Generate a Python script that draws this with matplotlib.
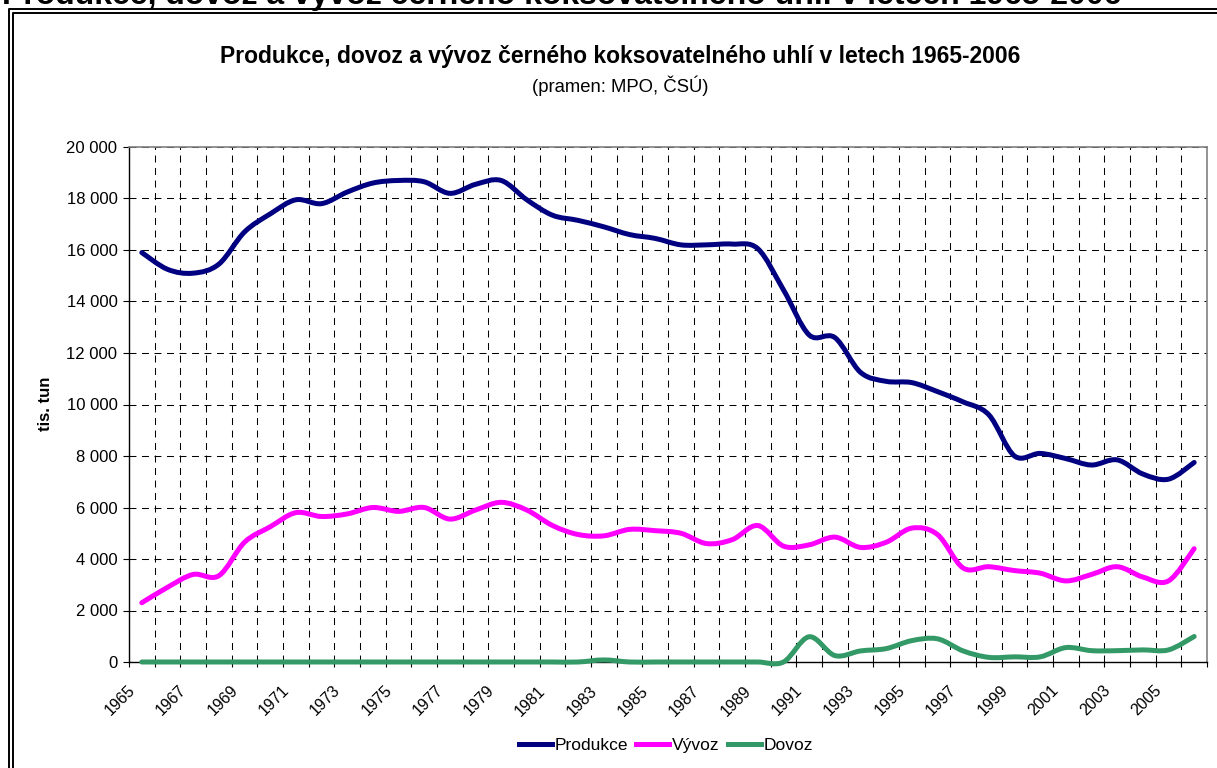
import matplotlib
matplotlib.use("Agg")
import matplotlib.pyplot as plt
from matplotlib.path import Path
from matplotlib.patches import PathPatch
from matplotlib.lines import Line2D
from matplotlib.transforms import ScaledTranslation

plt.rcParams["font.family"] = ["Liberation Sans", "DejaVu Sans"]
plt.rcParams["lines.scale_dashes"] = False

# Data (tis. tun)
years = list(range(1965, 2007))

produkce = [15900, 15250, 15100, 15450, 16700, 17400, 17950, 17800, 18250, 18600,
            18700, 18650, 18200, 18550, 18700, 17950, 17350, 17150, 16900, 16600,
            16450, 16200, 16200, 16230, 16050, 14450, 12700, 12600, 11250, 10900,
            10850, 10500, 10100, 9600, 8000, 8100, 7900, 7650, 7850, 7300,
            7100, 7750]

vyvoz = [2300, 2900, 3400, 3350, 4650, 5250, 5800, 5650, 5750, 6000,
         5850, 6000, 5550, 5900, 6200, 5900, 5300, 4950, 4900, 5150,
         5100, 5000, 4600, 4750, 5300, 4500, 4550, 4850, 4450, 4650,
         5200, 4950, 3650, 3700, 3550, 3450, 3150, 3400, 3700, 3300,
         3150, 4400]

dovoz = [0] * 18 + [80] + [0] * 7 + [980, 250, 430, 520, 830, 900, 430, 180,
                                     200, 200, 560, 440, 440, 470, 470, 990]

series_names = ["Produkce", "Vývoz", "Dovoz"]
series_colors = ["#000080", "#FF00FF", "#339966"]

W, H = 1217, 768


def smooth_path(xs, ys):
    """Excel-like smoothed line: Catmull-Rom as cubic Bezier segments."""
    verts = [(xs[0], ys[0])]
    codes = [Path.MOVETO]
    n = len(xs)
    for i in range(n - 1):
        i0 = i - 1 if i > 0 else i
        i3 = i + 2 if i + 2 < n else i + 1
        c1 = (xs[i] + (xs[i + 1] - xs[i0]) / 6, ys[i] + (ys[i + 1] - ys[i0]) / 6)
        c2 = (xs[i + 1] - (xs[i3] - xs[i]) / 6, ys[i + 1] - (ys[i3] - ys[i]) / 6)
        verts += [c1, c2, (xs[i + 1], ys[i + 1])]
        codes += [Path.CURVE4] * 3
    return Path(verts, codes)


fig = plt.figure(figsize=(W / 100, H / 100), dpi=100)
ax = fig.add_axes([129 / W, 1 - 662 / H, (1207 - 129) / W, (662 - 147) / H])

xs = list(range(len(years)))
for vals, color in zip([produkce, vyvoz, dovoz], series_colors):
    patch = PathPatch(smooth_path(xs, vals), facecolor="none", edgecolor=color,
                      lw=3.6, capstyle="round", joinstyle="round", zorder=3)
    patch.set_clip_on(False)
    ax.add_patch(patch)

ax.set_xlim(-0.5, len(years) - 0.5)
ax.set_ylim(0, 20000)

# category boundaries carry tick marks and grid, labels sit on the centres
bounds = [i - 0.5 for i in range(len(years) + 1)]
ax.set_xticks(bounds)
ax.set_xticklabels([])
ax.set_xticks(xs[::2], minor=True)
ax.set_xticklabels([str(y) for y in years[::2]], minor=True, rotation=45,
                   ha="right", va="top", fontsize=11.5)
ax.tick_params(axis="x", which="major", direction="out", length=3.8, width=0.8)
ax.tick_params(axis="x", which="minor", length=0, pad=15)
shift = ScaledTranslation(-4 / 100, 0, fig.dpi_scale_trans)
for lab in ax.get_xticklabels(minor=True):
    lab.set_transform(lab.get_transform() + shift)

yticks = list(range(0, 20001, 2000))
ax.set_yticks(yticks)
ax.set_yticklabels([f"{v:,}".replace(",", " ") for v in yticks], fontsize=12)
ax.tick_params(axis="y", direction="out", length=4.3, width=0.8, pad=4)

ax.grid(True, which="major", color="black", lw=0.75, linestyle=(0, (5, 4)))
ax.set_axisbelow(True)

for side in ["left", "bottom"]:
    ax.spines[side].set_color("black")
    ax.spines[side].set_linewidth(1.0)
for side in ["top", "right"]:
    ax.spines[side].set_color("#808080")
    ax.spines[side].set_linewidth(1.2)

# titles and axis label
fig.text(2 / W, 1 - 4 / H,
         "Produkce, dovoz a vývoz černého koksovatelného uhlí v letech 1965-2006",
         ha="left", va="baseline", fontsize=23, fontweight="bold")
fig.text(620 / W, 1 - 57 / H,
         "Produkce, dovoz a vývoz černého koksovatelného uhlí v letech 1965-2006",
         ha="center", va="center", fontsize=16.5, fontweight="bold")
fig.text(620 / W, 1 - 86 / H, "(pramen: MPO, ČSÚ)",
         ha="center", va="center", fontsize=13.3)
fig.text(45 / W, 1 - 404 / H, "tis. tun", rotation=90, ha="center", va="center",
         fontsize=12, fontweight="bold")

# double frame around the chart
for off, lw in [(9, 1.4), (13, 1.4)]:
    fig.add_artist(Line2D([off / W, off / W, 1.0], [0.0, 1 - off / H, 1 - off / H],
                          transform=fig.transFigure, color="black", lw=lw))

handles = [Line2D([], [], color=c, lw=3.6) for c in series_colors]
fig.legend(handles, series_names, loc="center", bbox_to_anchor=(666 / W, 1 - 745 / H),
           ncol=3, frameon=False, fontsize=12.5, handlelength=1.9,
           handletextpad=0.15, columnspacing=0.5)

fig.savefig("out.png", dpi=100)
